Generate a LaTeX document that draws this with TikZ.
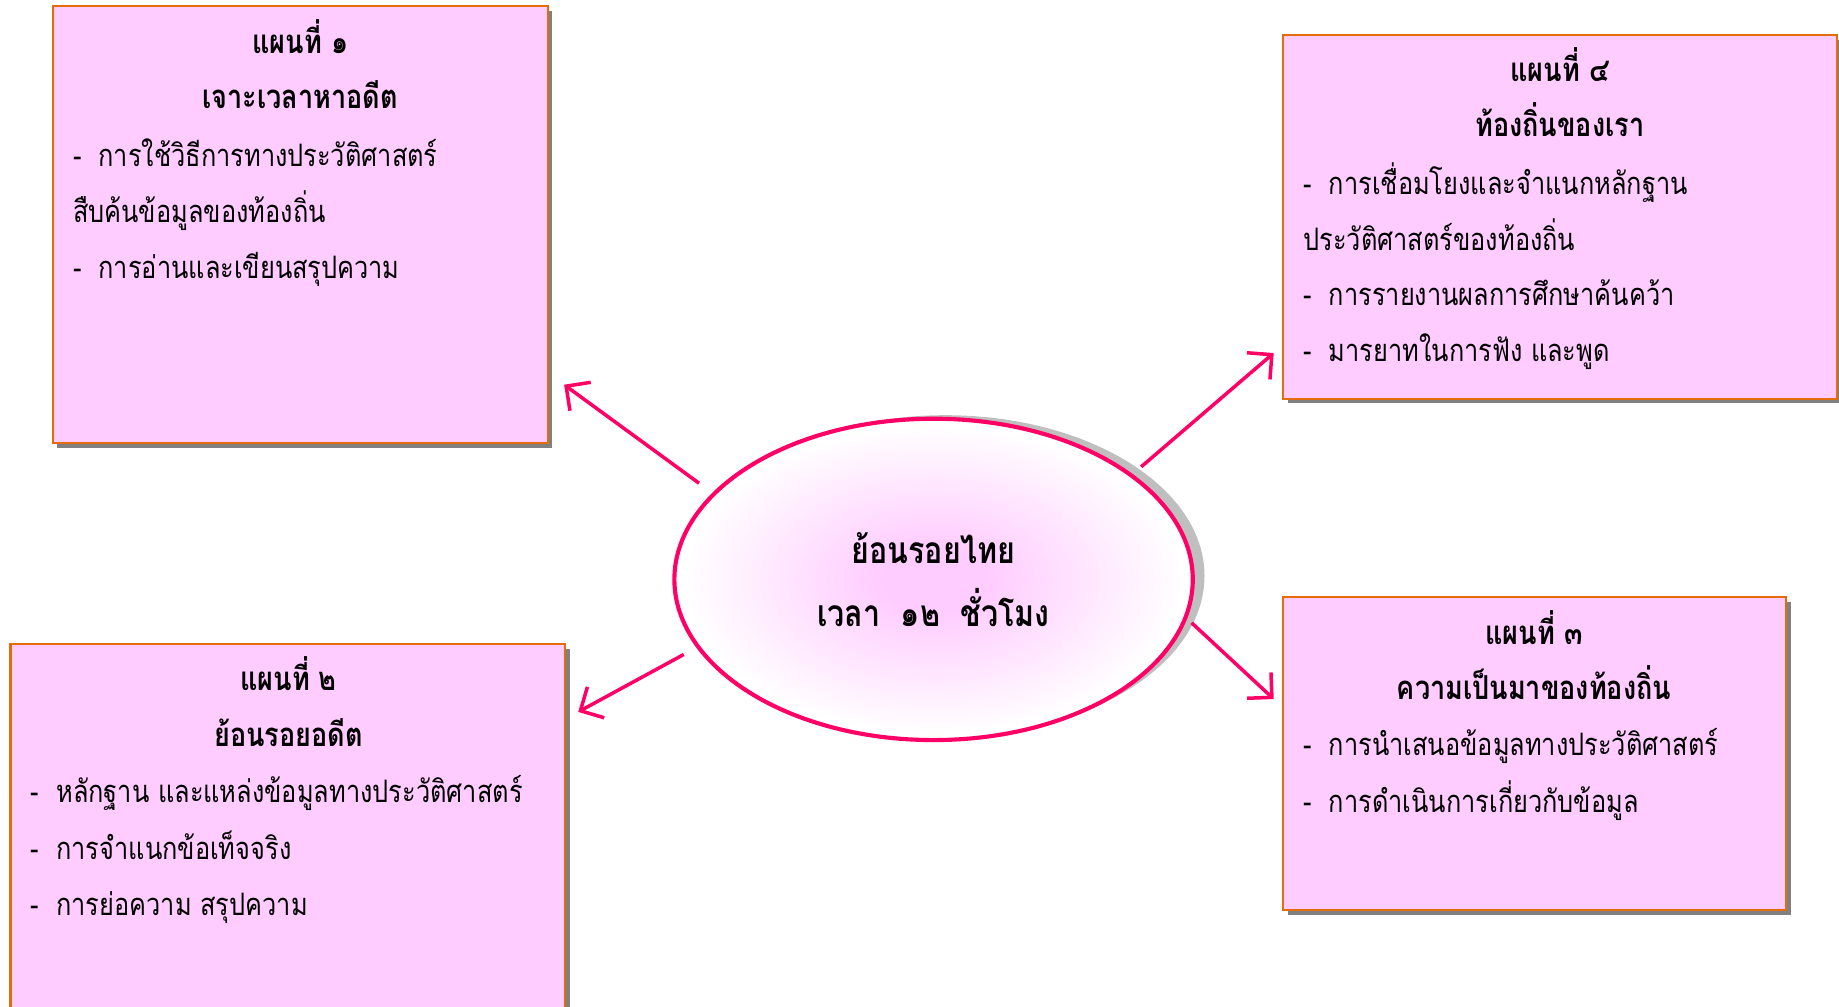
\documentclass[tikz,border=0pt]{standalone}
\usepackage{fontspec}
\setmainfont[Script=Thai,FakeStretch=0.82]{Loma}
\usetikzlibrary{arrows.meta,shadows,shapes.geometric}
\definecolor{planpink}{HTML}{FFCCFF}
\definecolor{planedge}{HTML}{E46C0A}
\definecolor{corepink}{HTML}{FF0066}
\pgfdeclareradialshading{coreglow}{\pgfpoint{0bp}{0bp}}{color(0bp)=(planpink); color(5bp)=(planpink); color(24bp)=(white); color(50bp)=(white)}

\begin{document}
\begin{tikzpicture}[
  plan/.style={draw=planedge, line width=1.1pt, fill=planpink, inner sep=0pt,
    drop shadow={shadow xshift=0.08cm, shadow yshift=-0.08cm, fill=gray, opacity=1}},
  headline/.style={font=\bfseries\fontsize{16}{19}\selectfont, anchor=mid, inner sep=0pt, yshift=-0.08cm},
  corename/.style={font=\bfseries\fontsize{18}{21}\selectfont, anchor=mid, inner sep=0pt, yshift=-0.08cm},
  item/.style={font=\fontsize{15}{18}\selectfont, anchor=mid west, inner sep=0pt, yshift=-0.08cm},
  link/.style={draw=corepink, line width=1.7pt, -{Straight Barb[length=3mm,width=6mm]}}]
%แผนผังหน่วยการเรียนรู้ ย้อนรอยไทย
\useasboundingbox (0,0) rectangle (31.36,-17.16);

\node[plan, minimum width=8.44cm, minimum height=7.46cm] (Plan1) at (5.12,-3.83) {};
\node[plan, minimum width=9.44cm, minimum height=6.20cm] (Plan4) at (26.60,-3.70) {};
\node[plan, minimum width=9.46cm, minimum height=6.60cm] (Plan2) at (4.91,-14.28) {};
\node[plan, minimum width=8.58cm, minimum height=5.34cm] (Plan3) at (26.17,-12.85) {};

\node[ellipse, draw=corepink, line width=2pt, shading=coreglow,
  minimum width=8.84cm, minimum height=5.48cm,
  drop shadow={shadow xshift=0.2cm, shadow yshift=0.06cm, fill=gray!50, opacity=1}]
  (Core) at (15.92,-9.88) {};

\coordinate (Go1) at (11.92,-8.24);
\coordinate (To1) at (9.62,-6.56);
\coordinate (Go4) at (19.46,-7.96);
\coordinate (To4) at (21.72,-6.02);
\coordinate (Go2) at (11.66,-11.16);
\coordinate (To2) at (9.86,-12.14);
\coordinate (Go3) at (20.32,-10.62);
\coordinate (To3) at (21.72,-11.92);

\foreach \s/\e in {Go1/To1, Go4/To4, Go2/To2, Go3/To3}
{
    \draw[link] (\s) -- (\e);
};

\node[corename] (Core1) at (15.92,-9.44) {ย้อนรอยไทย};
\node[corename] (Core2) at (15.92,-10.52) {เวลา~~๑๒~~ชั่วโมง};

\foreach \n/\x/\y/\t in
{ P1a/5.12/-0.74/แผนที่ ๑,
    P1b/5.12/-1.68/เจาะเวลาหาอดีต,
    P4a/26.60/-1.22/แผนที่ ๔,
    P4b/26.60/-2.16/ท้องถิ่นของเรา,
    P2a/4.92/-11.60/แผนที่ ๒,
    P2b/4.92/-12.56/ย้อนรอยอดีต,
    P3a/26.16/-10.82/แผนที่ ๓,
    P3b/26.16/-11.76/ความเป็นมาของท้องถิ่น
}
{
    \node[headline] (\n) at (\x,\y) {\t};
};

\foreach \n/\x/\y/\t in
{ P1c/1.24/-2.66/-~~การใช้วิธีการทางประวัติศาสตร์,
    P1d/1.24/-3.62/สืบค้นข้อมูลของท้องถิ่น,
    P1e/1.24/-4.58/-~~การอ่านและเขียนสรุปความ,
    P4c/22.22/-3.14/-~~การเชื่อมโยงและจำแนกหลักฐาน,
    P4d/22.22/-4.10/ประวัติศาสตร์ของท้องถิ่น,
    P4e/22.22/-5.04/-~~การรายงานผลการศึกษาค้นคว้า,
    P4f/22.22/-6.00/-~~มารยาทในการฟัง และพูด,
    P2c/0.52/-13.52/-~~หลักฐาน และแหล่งข้อมูลทางประวัติศาสตร์,
    P2d/0.52/-14.48/-~~การจำแนกข้อเท็จจริง,
    P2e/0.52/-15.44/-~~การย่อความ สรุปความ,
    P3c/22.22/-12.72/-~~การนำเสนอข้อมูลทางประวัติศาสตร์,
    P3d/22.22/-13.68/-~~การดำเนินการเกี่ยวกับข้อมูล
}
{
    \node[item] (\n) at (\x,\y) {\t};
};
\end{tikzpicture}
\end{document}
